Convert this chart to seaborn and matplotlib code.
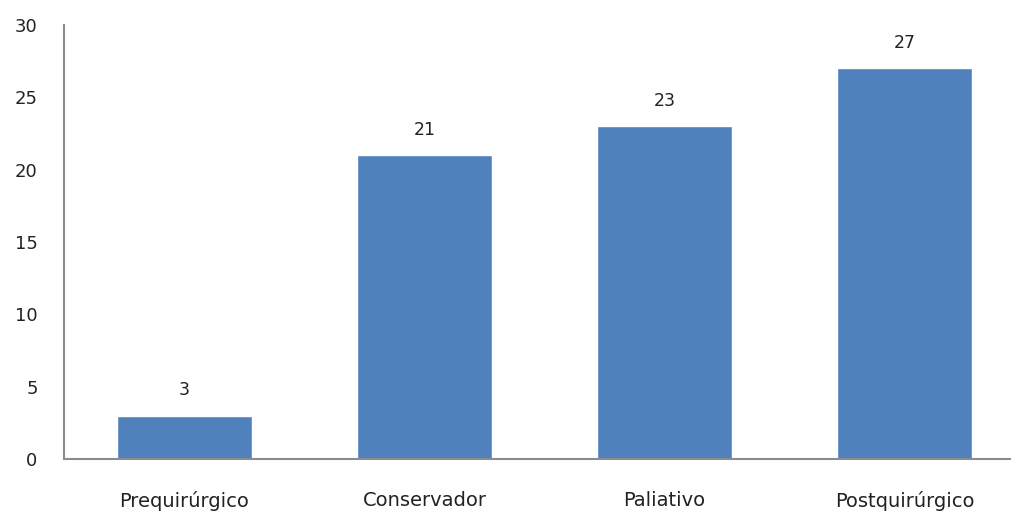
import matplotlib
matplotlib.use("Agg")
import matplotlib.pyplot as plt
import seaborn as sns
import pandas as pd

# Chart data
categories = ["Prequirúrgico", "Conservador", "Paliativo", "Postquirúrgico"]
values = [3, 21, 23, 27]
yticks = [0, 5, 10, 15, 20, 25, 30]

df = pd.DataFrame({"cat": categories, "val": values})

sns.set_style("white")
plt.rcParams['font.family'] = ["DejaVu Sans"]

fig = plt.figure(figsize=(10.11, 5.13), dpi=100)
ax = fig.add_axes([64/1011, 54/513, 961/1011, 434/513])

sns.barplot(data=df, x="cat", y="val", color="#4F81BD", saturation=1,
            width=0.5625, ax=ax)

for i, v in enumerate(values):
    ax.annotate(str(v), (i, v), xytext=(0, 12), textcoords="offset points",
                ha="center", va="bottom", fontsize=12.5, color="#222222")

ax.set_ylim(0, 30)
ax.set_xlim(-0.5, 3.5)
ax.set_yticks(yticks)
ax.set_xlabel("")
ax.set_ylabel("")
ax.tick_params(axis="both", length=0, labelsize=13, colors="#222222")
ax.tick_params(axis="y", pad=19)
ax.tick_params(axis="x", pad=23)
for lbl in ax.get_xticklabels():
    lbl.set_fontsize(14)

for s in ["top", "right"]:
    ax.spines[s].set_visible(False)
for s in ["left", "bottom"]:
    ax.spines[s].set_color("#8C8C8C")
    ax.spines[s].set_linewidth(1.5)

fig.savefig("out.png", dpi=100)
